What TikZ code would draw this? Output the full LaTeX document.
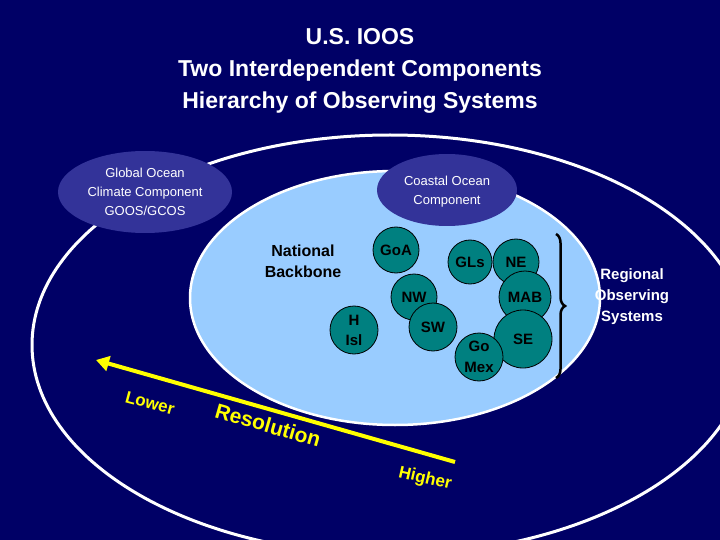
\documentclass[tikz,border=0pt]{standalone}
\usepackage{fontspec}
\setmainfont{Liberation Sans}
\usetikzlibrary{decorations.pathreplacing,arrows.meta}
\definecolor{navy}{RGB}{0,0,102}
\definecolor{lblue}{RGB}{153,204,255}
\definecolor{comp}{RGB}{51,51,153}
\definecolor{teal2}{RGB}{0,128,128}
\definecolor{ylw}{RGB}{255,255,0}
\begin{document}
\begin{tikzpicture}[x=1pt,y=-1pt,
 reg/.style={circle,draw=black,fill=teal2,line width=0.8pt,font=\bfseries\fontsize{15}{16}\selectfont,align=center,inner sep=0pt},
 lbl/.style={font=\bfseries\fontsize{16}{21}\selectfont,align=center},
 yl/.style={text=ylw,font=\bfseries\fontsize{17}{18}\selectfont}]
\fill[navy] (0,0) rectangle (720,540);
\useasboundingbox (0,0) rectangle (720,540);
\draw[white,line width=3pt,fill=navy] (390,345) ellipse [x radius=358,y radius=210];
\draw[white,line width=2.5pt,fill=lblue] (395,298) ellipse [x radius=205,y radius=127];
\fill[comp] (145,192) ellipse [x radius=87,y radius=41];
\fill[comp] (447,190) ellipse [x radius=70,y radius=36];
\node[text=white,font=\fontsize{13}{19}\selectfont,align=center] (g) at (145,192) {Global Ocean\\Climate Component\\GOOS/GCOS};
\node[text=white,font=\fontsize{13}{19}\selectfont,align=center] (c) at (447,192) {Coastal Ocean\\Component};
\node[text=white,font=\bfseries\fontsize{23}{32}\selectfont,align=center] (t) at (360,71) {U.S. IOOS\\Two Interdependent Components\\Hierarchy of Observing Systems};
\node[lbl] (nb) at (303,261) {National\\Backbone};
\node[reg,minimum size=46pt] (goa) at (396,250) {GoA};
\node[reg,minimum size=44pt] (gls) at (470,262) {GLs};
\node[reg,minimum size=46pt] (ne) at (516,262) {NE};
\node[reg,minimum size=46pt] (nw) at (414,297) {NW};
\node[reg,minimum size=52pt] (mab) at (525,297) {MAB};
\node[reg,minimum size=48pt] (sw) at (433,327) {SW};
\node[reg,minimum size=48pt,font=\bfseries\fontsize{15}{20}\selectfont] (h) at (354,330) {H\\Isl};
\node[reg,minimum size=58pt] (se) at (523,339) {SE};
\node[reg,minimum size=48pt,font=\bfseries\fontsize{15}{21}\selectfont] (gm) at (479,357) {Go\\Mex};
\coordinate (b1) at (556,234); \coordinate (b2) at (556,378);
\draw[black,line width=2.5pt,decorate,decoration={brace,amplitude=9pt}] (b1) -- (b2);
\node[lbl,text=white,font=\bfseries\fontsize{15}{21}\selectfont] (ros) at (632,297) {Regional\\Observing\\Systems};
\coordinate (hi) at (455,462); \coordinate (lo) at (96,360);
\draw[ylw,line width=4pt,-{Triangle[length=13pt,width=15pt]}] (hi) -- (lo);
\node[yl,rotate=-15] (lw) at (150,403) {Lower};
\node[yl,rotate=-16,font=\bfseries\fontsize{21}{22}\selectfont] (rs) at (268,425) {Resolution};
\node[yl,rotate=-13] (hg) at (425,479) {Higher};
\end{tikzpicture}
\end{document}
